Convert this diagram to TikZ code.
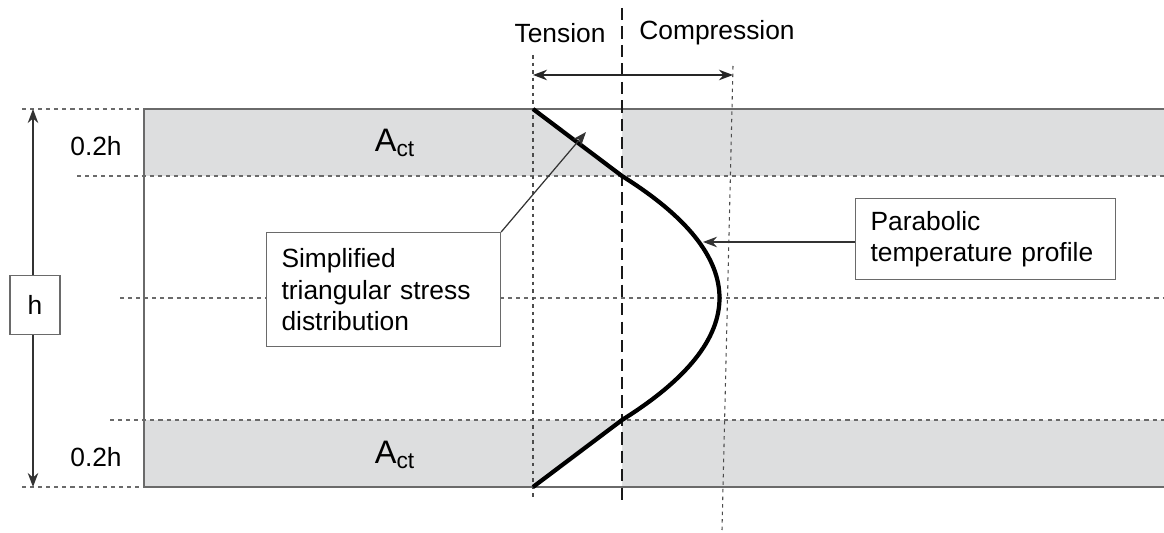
\documentclass[tikz,border=0pt]{standalone}
\usepackage{fontspec}
\setmainfont{Liberation Sans}
\usetikzlibrary{arrows.meta,positioning}

\definecolor{bandgrey}{HTML}{DDDEDF}
\definecolor{edgegrey}{HTML}{6A6A6A}

\tikzset{
  guide/.style={edgegrey, line width=0.6pt, dash pattern=on 2.3pt off 2.3pt},
  vguide/.style={black!70, line width=0.6pt, dash pattern=on 2pt off 2.3pt},
  axisline/.style={black!90, line width=1.7pt, dash pattern=on 7pt off 3.5pt},
  beamedge/.style={edgegrey, line width=0.8pt},
  profile/.style={black, line width=2.4pt, line join=round},
  note/.style={draw=edgegrey, line width=0.7pt, fill=white, align=left,
    font=\fontsize{15}{17.8}\selectfont, inner xsep=8.5pt},
  lbl/.style={font=\fontsize{15}{17}\selectfont},
  pointer/.style={-{Stealth[length=8pt,width=6pt]}, black!80, line width=0.7pt}
}

\begin{document}
\begin{tikzpicture}[x=0.02cm,y=-0.02cm,>={Stealth[length=8pt,width=6pt]}]
	\useasboundingbox (0,0) rectangle (1164,533);

	% key points of the stress profile
	\coordinate (pT) at (533,109);
	\coordinate (cT) at (622,176);
	\coordinate (apex) at (722,298);
	\coordinate (cB) at (622,420);
	\coordinate (pB) at (533,487);

	% grey bands A_ct
	\fill[bandgrey] (144,109) rectangle (1164,176);
	\fill[bandgrey] (144,420) rectangle (1164,487);
	\fill[white] (pT) -- (622,109) -- (cT) -- cycle;
	\fill[white] (pB) -- (622,487) -- (cB) -- cycle;

	% beam outline
	\draw[beamedge] (1164,109) -- (144,109) -- (144,487) -- (1164,487);

	% horizontal guides
	\draw[guide] (22,109) -- (144,109);
	\draw[guide] (22,487) -- (144,487);
	\draw[guide] (77,176) -- (1164,176);
	\draw[guide] (120,298) -- (1164,298);
	\draw[guide] (110,420) -- (1164,420);

	% vertical guides and neutral axis
	\draw[vguide] (533,55) -- (533,500);
	\draw[vguide] (733,66) -- (722,530);
	\draw[axisline] (622,8) -- (622,506);

	% range arrow
	\coordinate (rL) at (533,75);
	\coordinate (rR) at (733,75);
	\draw[<->, black!85, line width=0.9pt] (rL) -- (rR);
	\node[lbl] (tension) at (560,33) {Tension};
	\node[lbl] (compression) at (717,33) {Compression};

	% stress profile
	\draw[profile] (pT) -- (cT)
		.. controls (752,257.3) and (752,338.7) .. (cB) -- (pB);

	% labels
	\node[font=\fontsize{18.5}{20}\selectfont] (actT) at (395,143) {A\textsubscript{ct}};
	\node[font=\fontsize{18.5}{20}\selectfont] (actB) at (395,455) {A\textsubscript{ct}};
	\node[lbl] (fracT) at (96,146) {0.2h};
	\node[lbl] (fracB) at (96,457) {0.2h};

	% depth h
	\coordinate (hT) at (33,109);
	\coordinate (hB) at (33,487);
	\draw[<->, black!80, line width=0.8pt] (hT) -- (hB);
	\node[draw=edgegrey, line width=0.7pt, fill=white, minimum width=1cm,
		minimum height=1.18cm, inner sep=0pt, lbl] (h) at (35,305) {h};

	% notes
	\node[note, anchor=north west, minimum width=4.68cm, minimum height=2.28cm,
		text width=4.68cm-17pt] (triNote) at (266,232)
		{Simplified\\triangular stress\\distribution};
	\node[note, anchor=north west, minimum width=5.2cm, minimum height=1.62cm,
		text width=5.2cm-17pt] (paraNote) at (855,198)
		{Parabolic\\temperature profile};

	\coordinate (triTip) at (586,132);
	\coordinate (paraTip) at (703,242);
	\path[pointer]
		(triNote.north east) edge (triTip)
		(paraNote.west |- paraTip) edge (paraTip);
\end{tikzpicture}
\end{document}
